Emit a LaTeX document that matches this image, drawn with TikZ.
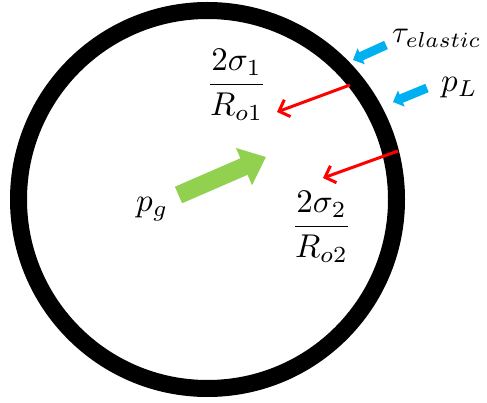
\documentclass[tikz,border=0pt]{standalone}
\usepackage{graphicx}
\usetikzlibrary{arrows.meta}
\definecolor{redA}{RGB}{255,0,0}
\definecolor{blueA}{RGB}{0,176,240}
\definecolor{greenA}{RGB}{146,208,80}
\newcommand{\bigmathlabel}[1]{\scalebox{3.3}{$#1$}}
\begin{document}
\begin{tikzpicture}[x=1pt,y=-1pt,
  lbl/.style={inner sep=0pt},
  redarrow/.style={draw=redA,line width=3pt,-{Straight Barb[length=9pt,width=18pt]}},
  bluearrow/.style={draw=blueA,line width=9pt,-{Triangle[length=9pt,width=17pt]}},
  greenarrow/.style={draw=greenA,line width=18pt,-{Triangle[length=24pt,width=39pt]}}]
\useasboundingbox (0,0) rectangle (487,403);
\coordinate (c) at (207.5,199.5);
\draw[line width=17pt] (c) circle[radius=189];
% labels
\node[lbl,anchor=base] (f1) at (236.5,93) {\bigmathlabel{\displaystyle\frac{2\sigma_1}{R_{o1}}}};
\node[lbl,anchor=base] (f2) at (321.5,235) {\bigmathlabel{\displaystyle\frac{2\sigma_2}{R_{o2}}}};
\node[lbl,anchor=base west] (pg) at (136,212) {\bigmathlabel{p_g}};
\node[lbl,anchor=base west] (pL) at (441,92) {\bigmathlabel{p_L}};
\node[lbl,anchor=base west] (tau) at (392,43) {\scalebox{3.1}{$\tau_{elastic}$}};
% red arrows
\coordinate (r1s) at (350,85);
\coordinate (r1e) at (277,112);
\coordinate (r2s) at (398,151);
\coordinate (r2e) at (323,178);
\draw[redarrow] (r1s) -- (r1e);
\draw[redarrow] (r2s) -- (r2e);
% blue arrows
\coordinate (b1s) at (386,45);
\coordinate (b1e) at (353,60);
\coordinate (b2s) at (427,88);
\coordinate (b2e) at (393,102);
\draw[bluearrow] (b1s) -- (b1e);
\draw[bluearrow] (b2s) -- (b2e);
% green arrow
\coordinate (gs) at (178.5,195);
\coordinate (ge) at (266,157);
\draw[greenarrow] (gs) -- (ge);
\end{tikzpicture}
\end{document}
